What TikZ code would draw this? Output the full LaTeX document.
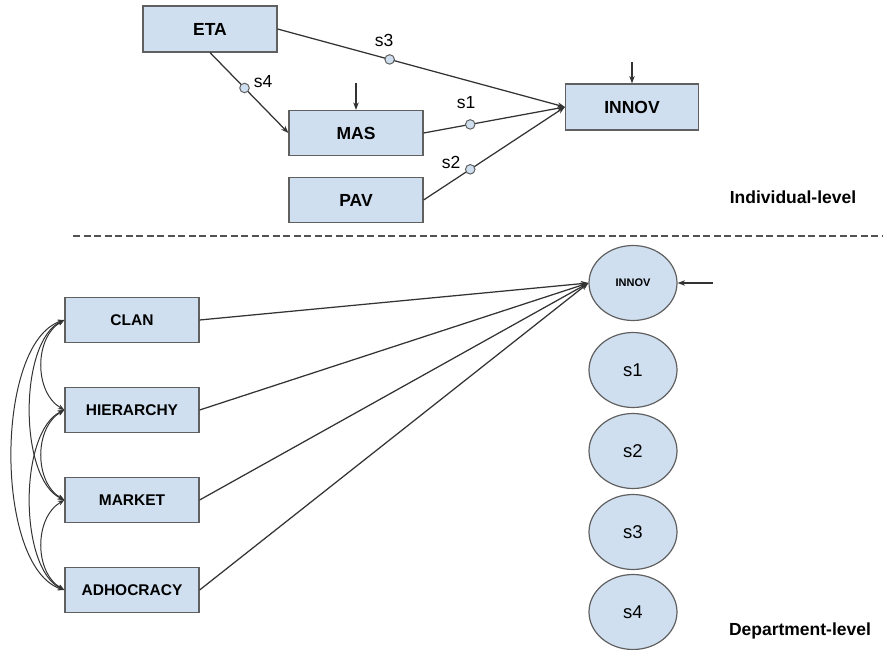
\documentclass[tikz,border=0pt]{standalone}
\usepackage{fontspec}
\setmainfont{Liberation Sans}
\usetikzlibrary{arrows.meta,shapes.geometric}
\definecolor{boxfill}{HTML}{CFDFF0}
\definecolor{boxline}{HTML}{606060}
\definecolor{wire}{HTML}{333333}
\tikzset{
  varbox/.style={draw=boxline, line width=1.2pt, fill=boxfill, rectangle,
    minimum width=134pt, minimum height=45pt, inner sep=0pt,
    font=\fontsize{17.5}{20}\selectfont\bfseries},
  lowbox/.style={varbox, font=\fontsize{15.5}{18}\selectfont\bfseries},
  latent/.style={draw=boxline, line width=1.2pt, fill=boxfill, ellipse,
    minimum width=88pt, minimum height=75pt, inner sep=0pt,
    font=\fontsize{18.5}{20}\selectfont},
  slope/.style={draw=boxline, line width=1pt, fill=boxfill, circle,
    minimum size=9.5pt, inner sep=0pt},
  slabel/.style={font=\fontsize{17.5}{18}\selectfont, inner sep=0pt},
  pathline/.style={draw=wire, line width=1.25pt, -{Stealth[length=7.5pt,width=5.5pt]}},
  cov/.style={draw=wire, line width=1pt,
    {Stealth[length=6.5pt,width=5pt]}-{Stealth[length=6.5pt,width=5pt]}},
  levelname/.style={font=\fontsize{17.5}{20}\selectfont\bfseries, inner sep=0pt}
}
\begin{document}
\begin{tikzpicture}[x=1pt, y=-1pt]
\useasboundingbox (0,0) rectangle (883,650);

% ---- individual level ----
\node[varbox, minimum height=46pt] (eta)   at (210,29)  {ETA};
\node[varbox] (mas)   at (356,133) {MAS};
\node[varbox] (pav)   at (356,200) {PAV};
\node[varbox, minimum width=133pt, minimum height=46pt] (innov) at (632,107) {INNOV};

\coordinate (masres) at (356,83);
\coordinate (innovres) at (632,62);
\draw[pathline] (masres) -- (mas.north);
\draw[pathline] (innovres) -- (innov.north);

\draw[pathline] (eta.east) -- node[pos=0.39, slope] (c3) {} (innov.west);
\draw[pathline] (eta.south) -- node[pos=0.44, slope] (c4) {} (mas.west);
\draw[pathline] (mas.east) -- node[pos=0.33, slope] (c1) {} (innov.west);
\draw[pathline] (pav.east) -- node[pos=0.33, slope] (c2) {} (innov.west);

\node[slabel] (s3lab) at (384,40)  {s3};
\node[slabel] (s4lab) at (263,82)  {s4};
\node[slabel] (s1lab) at (466,103) {s1};
\node[slabel] (s2lab) at (451,162) {s2};

\node[levelname] (indiv) at (793,197) {Individual-level};

% ---- level separator ----
\coordinate (sepL) at (73,236);
\coordinate (sepR) at (883,236);
\draw[draw=wire!85, line width=2pt, dash pattern=on 7pt off 3.5pt] (sepL) -- (sepR);

% ---- department level ----
\node[lowbox] (clan) at (132,320) {CLAN};
\node[lowbox] (hier) at (132,410) {HIERARCHY};
\node[lowbox] (mark) at (132,500) {MARKET};
\node[lowbox] (adho) at (132,590) {ADHOCRACY};

\node[latent, font=\fontsize{11}{12}\selectfont\bfseries] (innovb) at (633,283) {INNOV};
\node[latent] (e1) at (633,370) {s1};
\node[latent] (e2) at (633,451) {s2};
\node[latent] (e3) at (633,532) {s3};
\node[latent] (e4) at (633,612) {s4};

\coordinate (innovbres) at (713,283);
\draw[pathline] (innovbres) -- (innovb.east);

\draw[pathline] (clan.east) -- (innovb.west);
\draw[pathline] (hier.east) -- (innovb.west);
\draw[pathline] (mark.east) -- (innovb.west);
\draw[pathline] (adho.east) -- (innovb.west);

% covariances among the culture types
\draw[cov] (clan.west) to[out=210, in=150, looseness=1.0] (hier.west);
\draw[cov] (hier.west) to[out=210, in=150, looseness=1.0] (mark.west);
\draw[cov] (mark.west) to[out=210, in=150, looseness=1.0] (adho.west);
\draw[cov] (clan.west) to[out=205, in=155, looseness=0.72] (mark.west);
\draw[cov] (hier.west) to[out=205, in=155, looseness=0.72] (adho.west);
\draw[cov] (clan.west) to[out=198, in=162, looseness=0.7] (adho.west);

\node[levelname] (dept) at (800,631) {Department-level};
\end{tikzpicture}
\end{document}
